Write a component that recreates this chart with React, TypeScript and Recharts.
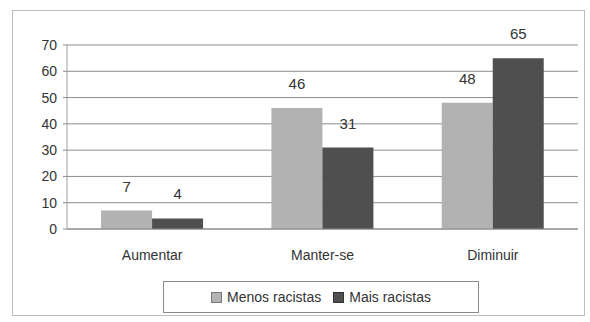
import { Bar, BarChart, CartesianGrid, LabelList, XAxis, YAxis } from "recharts"

const categories = ["Aumentar", "Manter-se", "Diminuir"]
const menosRacistas = [7, 46, 48]
const maisRacistas = [4, 31, 65]
const yTicks = [0, 10, 20, 30, 40, 50, 60, 70]

const data = categories.map((name, i) => ({
  name,
  menos: menosRacistas[i],
  mais: maisRacistas[i],
}))

const LIGHT = "#b2b2b2"
const DARK = "#4f4f4f"
const FONT = "'Liberation Sans', Arial, sans-serif"

function LegendBox() {
  return (
    <div
      style={{
        position: "absolute",
        left: 163,
        top: 281,
        border: "1px solid #8a8a8a",
        width: 316,
        height: 32,
        boxSizing: "border-box",
        display: "flex",
        alignItems: "center",
        justifyContent: "center",
        gap: 12,
        fontFamily: FONT,
        fontSize: 14,
        color: "#333",
      }}
    >
      <span style={{ display: "flex", alignItems: "center", gap: 5 }}>
        <span style={{ width: 9, height: 9, background: LIGHT, border: "1px solid #777" }} />
        Menos racistas
      </span>
      <span style={{ display: "flex", alignItems: "center", gap: 5 }}>
        <span style={{ width: 9, height: 9, background: DARK, border: "1px solid #333" }} />
        Mais racistas
      </span>
    </div>
  )
}

export default function App() {
  return (
    <div style={{ position: "fixed", left: 0, top: 0, width: 590, height: 322, background: "#fff" }}>
      <div
        style={{
          position: "absolute",
          left: 12,
          top: 10,
          width: 573,
          height: 306,
          border: "1px solid #bdbdbd",
          boxSizing: "border-box",
        }}
      />
      <BarChart
        width={590}
        height={322}
        data={data}
        margin={{ top: 45, right: 12, bottom: 0, left: 20 }}
        barCategoryGap="20%"
        barGap={0}
      >
        <CartesianGrid vertical={false} stroke="#8c8c8c" />
        <XAxis
          dataKey="name"
          height={93}
          axisLine={{ stroke: "#8c8c8c" }}
          tickLine={false}
          tickMargin={15}
          tick={{ fill: "#333", fontSize: 14, fontFamily: FONT }}
        />
        <YAxis
          width={47}
          domain={[0, 70]}
          ticks={yTicks}
          interval={0}
          axisLine={{ stroke: "#a0a0a0" }}
          tickLine={{ stroke: "#8c8c8c" }}
          tickSize={4}
          tickMargin={6}
          tick={{ fill: "#333", fontSize: 14, fontFamily: FONT }}
        />
        <Bar dataKey="menos" name="Menos racistas" fill={LIGHT} isAnimationActive={false}>
          <LabelList dataKey="menos" position="top" offset={19} fill="#333" fontSize={15} fontFamily={FONT} />
        </Bar>
        <Bar dataKey="mais" name="Mais racistas" fill={DARK} isAnimationActive={false}>
          <LabelList dataKey="mais" position="top" offset={19} fill="#333" fontSize={15} fontFamily={FONT} />
        </Bar>
      </BarChart>
      <LegendBox />
    </div>
  )
}
